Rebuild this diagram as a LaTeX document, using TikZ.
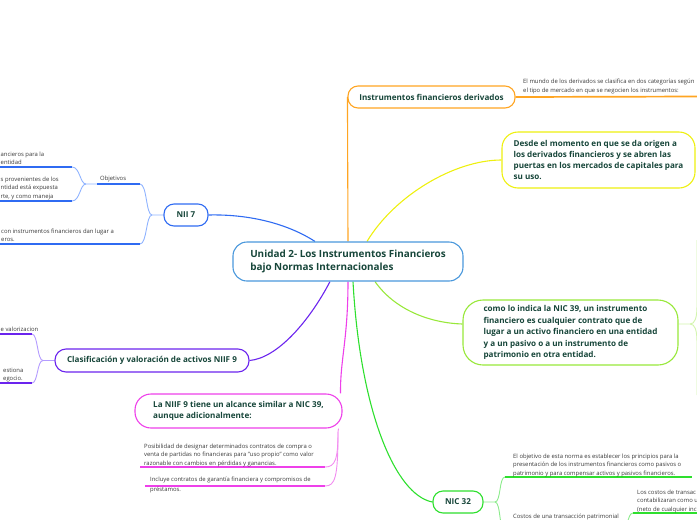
\documentclass[tikz,border=0pt]{standalone}
\usepackage{fontspec}
\setmainfont{Open Sans}
\usetikzlibrary{backgrounds,calc}
\definecolor{cBlueC}{HTML}{4A98DC}
\definecolor{cBlue}{HTML}{2F6BF2}
\definecolor{cBlueL}{HTML}{8FB3FF}
\definecolor{cOrange}{HTML}{FFA522}
\definecolor{cYellow}{HTML}{EEF010}
\definecolor{cLime}{HTML}{98E83A}
\definecolor{cLimeL}{HTML}{D3F5AE}
\definecolor{cPurple}{HTML}{6B24EE}
\definecolor{cPurpleL}{HTML}{B49CFF}
\definecolor{cPink}{HTML}{EE40EA}
\definecolor{cPinkL}{HTML}{F28CF0}
\definecolor{cGreen}{HTML}{2EDF2E}
\definecolor{cGreenL}{HTML}{8CEB8C}
\definecolor{tDark}{HTML}{17463A}
\definecolor{tSmall}{HTML}{3A3A3A}
\begin{document}
\begin{tikzpicture}[x=1pt,y=-1pt,
  box/.style={draw, fill=white, line width=1.1pt, align=left, text=tDark, inner sep=2pt,
    font=\bfseries\fontsize{8.1}{10.8}\selectfont},
  sub/.style={inner sep=0pt, anchor=north west, align=left, text=tSmall,
    font=\fontsize{5.9}{8.5}\selectfont},
  con/.style={line width=1.1pt},
  subcon/.style={line width=0.9pt},
  ul/.style={line width=1.7pt}]
\useasboundingbox (0,0) rectangle (697,520);

% main topics
\node[box, draw=cBlueC, rounded corners=14pt, minimum width=230pt, minimum height=39pt,
  font=\bfseries\fontsize{9.9}{13.3}\selectfont] (cen) at (348,261.5)
  {Unidad 2- Los Instrumentos Financieros\\bajo Normas Internacionales};
\node[box, draw=cOrange, rounded corners=10pt, minimum width=167pt, minimum height=22pt] (ins) at (431.5,97)
  {Instrumentos financieros derivados};
\node[box, draw=cYellow, rounded corners=16pt, minimum width=193pt, minimum height=56pt] (des) at (598.5,160)
  {Desde el momento en que se da origen a\\los derivados financieros y se abren las\\puertas en los mercados de capitales para\\su uso.};
\node[box, draw=cLime, rounded corners=20pt, minimum width=215pt, minimum height=65pt,
  font=\bfseries\fontsize{8.1}{11.5}\selectfont] (com) at (570.5,332.5)
  {como lo indica la NIC 39, un instrumento\\financiero es cualquier contrato que de\\lugar a un activo financiero en una entidad\\y a un pasivo o a un instrumento de\\patrimonio en otra entidad.};
\node[box, draw=cBlue, rounded corners=10pt, minimum width=44pt, minimum height=22pt] (nii) at (186,215) {NII 7};
\node[box, draw=cPurple, rounded corners=11pt, minimum width=194pt, minimum height=23pt] (cla) at (152,360.5)
  {Clasificación y valoración de activos NIIF 9};
\node[box, draw=cPink, rounded corners=16pt, minimum width=207pt, minimum height=34pt] (nif) at (238.5,411)
  {La NIIF 9 tiene un alcance similar a NIC 39,\\aunque adicionalmente:};
\node[box, draw=cGreen, rounded corners=10pt, minimum width=50pt, minimum height=22pt] (nic) at (458,502) {NIC 32};

% subtopic texts
\node[sub] (insc) at (523,79) {El mundo de los derivados se clasifica en dos categorías según\\el tipo de mercado en que se negocien los instrumentos:};
\node[sub] (obj) at (100,175.5) {Objetivos};
\node[sub] (o1) at (0.5,151.5) {ancieros para la\\entidad};
\node[sub] (o2) at (0.5,176.5) {s provenientes de los\\ntidad está expuesta\\rte, y como maneja};
\node[sub] (n3) at (1,228.5) {con instrumentos financieros dan lugar a\\eros.};
\node[sub] (c1) at (0.5,326.5) {e valorizacion};
\node[sub] (c2) at (3,367.5) {estiona\\egocio.};
\node[sub] (p1) at (144,443.5) {Posibilidad de designar determinados contratos de compra o\\venta de partidas no financieras para "uso propio" como valor\\razonable con cambios en pérdidas y ganancias.};
\node[sub, font=\fontsize{5.9}{9.8}\selectfont] (p2) at (150,476.5) {Incluye contratos de garantía financiera y compromisos de\\préstamos.};
\node[sub] (k1) at (513,453.5) {El objetivo de esta norma es establecer los principios para la\\presentación de los instrumentos financieros como pasivos o\\patrimonio y para compensar activos y pasivos financieros.};
\node[sub] (k2) at (513,513.5) {Costos de una transacción patrimonial};
\node[sub] (k2c) at (637,489.5) {Los costos de transac\\contabilizaran como u\\(neto de cualquier inc};

% coordinates
\coordinate (insR) at (700,96.5);
\coordinate (objL) at (97,184);  \coordinate (objR) at (140,184);
\coordinate (o1L) at (-5,167);   \coordinate (o1R) at (72,167);
\coordinate (o2L) at (-5,201);   \coordinate (o2R) at (72,201);
\coordinate (n3L) at (-5,244);   \coordinate (n3R) at (140,244);
\coordinate (c1L) at (-5,334);   \coordinate (c1R) at (32,334);
\coordinate (c2L) at (-5,383);   \coordinate (c2R) at (32,383);
\coordinate (p1L) at (140,467);  \coordinate (p1R) at (325,467);
\coordinate (p2L) at (145,486);  \coordinate (p2R) at (325,486);
\coordinate (k1L) at (505,477);  \coordinate (k1R) at (692,477);
\coordinate (k2L) at (505,532);  \coordinate (k2R) at (622,532);
\coordinate (k2cL) at (633,513); \coordinate (k2cR) at (700,513);
\coordinate (niiF) at (152,215);
\coordinate (objF) at (86,184);
\coordinate (claF) at (43,360.5);
\coordinate (nifF) at (338,432);
\coordinate (nicF) at (495,502);
\coordinate (comF) at (690,324);
\coordinate (comU) at (697,240);
\coordinate (comD) at (697,395);

\begin{scope}[on background layer]
  % main connectors
  \draw[con, cBlue] (nii.east) .. controls (250,214) and (288,224) .. ([xshift=-33pt]cen.north);
  \draw[con, cOrange] (cen.north) -- (ins.west);
  \draw[con, cYellow] ([xshift=19pt]cen.north) .. controls (395,195) and (455,160) .. (des.west);
  \draw[con, cLime] ([xshift=27pt]cen.south) .. controls (395,310) and (430,323) .. ($(com.west)+(0,-8.5)$);
  \draw[con, cPurple] ([xshift=-18pt]cen.south) .. controls (310,320) and (278,358) .. (cla.east);
  \draw[con, cPink] (cen.south) .. controls (348,340) and (340,360) .. ($(nif.north east)+(-2,0)$);
  \draw[con, cGreen] ([xshift=5pt]cen.south) .. controls (360,410) and (395,495) .. (nic.west);
  % sub connectors
  \draw[subcon, cBlueL] (nii.west) -- (niiF) .. controls (146,215) and (147,184) .. (objR);
  \draw[subcon, cBlueL] (niiF) .. controls (146,215) and (147,244) .. (n3R);
  \draw[subcon, cBlueL] (objL) -- (objF) .. controls (80,184) and (80,167) .. (o1R);
  \draw[subcon, cBlueL] (objF) .. controls (80,184) and (80,201) .. (o2R);
  \draw[subcon, cPurpleL] (cla.west) -- (claF) .. controls (37,360.5) and (38,334) .. (c1R);
  \draw[subcon, cPurpleL] (claF) .. controls (37,360.5) and (38,383) .. (c2R);
  \draw[subcon, cPinkL] ($(nif.south east)+(-4,0)$) -- (nifF) .. controls (338,460) and (335,467) .. (p1R);
  \draw[subcon, cPinkL] (nifF) .. controls (338,478) and (335,486) .. (p2R);
  \draw[subcon, cGreenL] (nic.east) -- (nicF) .. controls (501,502) and (499,477) .. (k1L);
  \draw[subcon, cGreenL] (nicF) .. controls (501,502) and (499,532) .. (k2L);
  \draw[subcon, cGreenL] (k2R) .. controls (628,532) and (627,513) .. (k2cL);
  \draw[subcon, cLimeL] ($(com.east)+(0,-8.5)$) -- (comF) .. controls (695,324) and (697,318) .. (697,305) -- (comU);
  \draw[subcon, cLimeL] (comF) .. controls (695,324) and (697,330) .. (697,343) -- (comD);
  % underlines
  \draw[ul, cOrange] (ins.east) -- (insR);
  \draw[ul, cBlue] (objL) -- (objR);
  \draw[ul, cBlue] (o1L) -- (o1R);
  \draw[ul, cBlue] (o2L) -- (o2R);
  \draw[ul, cBlue] (n3L) -- (n3R);
  \draw[ul, cPurple] (c1L) -- (c1R);
  \draw[ul, cPurple] (c2L) -- (c2R);
  \draw[ul, cPink] (p1L) -- (p1R);
  \draw[ul, cPink] (p2L) -- (p2R);
  \draw[ul, cGreen] (k1L) -- (k1R);
  \draw[ul, cGreen] (k2L) -- (k2R);
  \draw[ul, cGreen] (k2cL) -- (k2cR);
\end{scope}
\end{tikzpicture}
\end{document}
